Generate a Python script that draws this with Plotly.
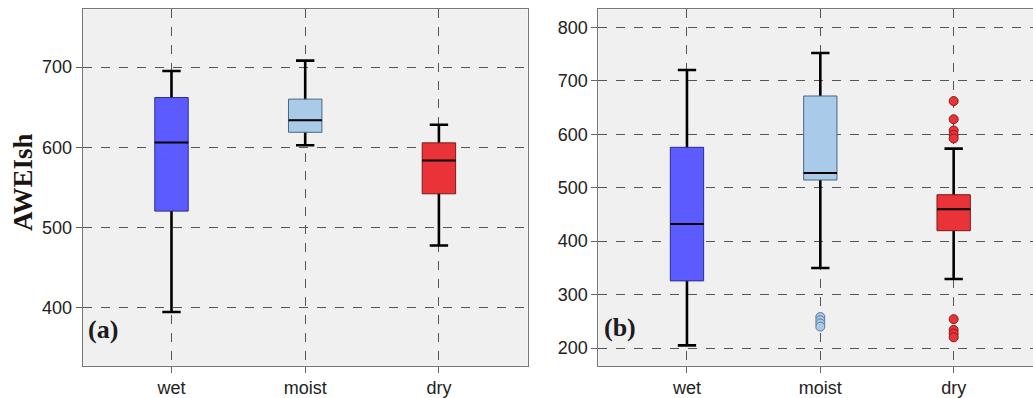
import plotly.graph_objects as go

categories = ["wet", "moist", "dry"]

# Panel (a)
a_lower = [394.6, 602.5, 477.6]
a_q1 = [520.4, 618.7, 542.0]
a_median = [606.0, 633.7, 583.4]
a_q3 = [662.0, 660.0, 605.5]
a_upper = [695.0, 708.0, 628.0]

# Panel (b)
b_lower = [205.0, 349.7, 329.0]
b_q1 = [325.6, 514.3, 419.5]
b_median = [432.0, 527.4, 459.5]
b_q3 = [575.5, 671.5, 486.8]
b_upper = [720.0, 752.0, 573.0]

b_moist_outliers = [258, 252, 246, 240]
b_dry_outliers = [662, 628, 607, 599, 592, 254, 234, 227, 220]

fills = ["#5b5bff", "#a9cbe9", "#ea3338"]
edges = ["#2d2d8a", "#4d6680", "#7a1a1a"]

W = 1033
H = 398

fig = go.Figure()


def add_panel(xa, ya, lower, q1, med, q3, upper):
    for i, c in enumerate(categories):
        # whiskers (thick black), flat box at median hidden behind coloured box
        fig.add_trace(go.Box(
            x=[c], q1=[med[i]], median=[med[i]], q3=[med[i]],
            lowerfence=[lower[i]], upperfence=[upper[i]],
            width=0.25, whiskerwidth=0.55,
            line=dict(color="black", width=2.6), fillcolor="rgba(0,0,0,0)",
            xaxis=xa, yaxis=ya, showlegend=False, hoverinfo="skip"))
        # coloured box
        fig.add_trace(go.Box(
            x=[c], q1=[q1[i]], median=[med[i]], q3=[q3[i]],
            lowerfence=[q1[i]], upperfence=[q3[i]],
            width=0.25, whiskerwidth=0,
            line=dict(color=edges[i], width=1), fillcolor=fills[i],
            xaxis=xa, yaxis=ya, showlegend=False, hoverinfo="skip"))
        # median line
        fig.add_trace(go.Box(
            x=[c], q1=[med[i]], median=[med[i]], q3=[med[i]],
            lowerfence=[med[i]], upperfence=[med[i]],
            width=0.25, whiskerwidth=0,
            line=dict(color="black", width=2), fillcolor="rgba(0,0,0,0)",
            xaxis=xa, yaxis=ya, showlegend=False, hoverinfo="skip"))


add_panel("x", "y", a_lower, a_q1, a_median, a_q3, a_upper)
add_panel("x2", "y2", b_lower, b_q1, b_median, b_q3, b_upper)

fig.add_trace(go.Scatter(
    x=["moist"] * len(b_moist_outliers), y=b_moist_outliers, mode="markers",
    marker=dict(size=9, color=fills[1], line=dict(color="#5a7a99", width=1)),
    xaxis="x2", yaxis="y2", showlegend=False, hoverinfo="skip"))
fig.add_trace(go.Scatter(
    x=["dry"] * len(b_dry_outliers), y=b_dry_outliers, mode="markers",
    marker=dict(size=9, color=fills[2], line=dict(color="#8b1a1a", width=1)),
    xaxis="x2", yaxis="y2", showlegend=False, hoverinfo="skip"))

tickfont = dict(family="Liberation Sans, Arial, sans-serif", size=18, color="#222")
common_x = dict(type="category", categoryorder="array", categoryarray=categories,
                showgrid=True, griddash="dash", gridcolor="#555", gridwidth=1,
                showline=True, mirror=True, linecolor="#777", linewidth=1,
                ticks="outside", ticklen=6, tickcolor="#666",
                tickfont=tickfont, zeroline=False, fixedrange=True)
common_y = dict(showgrid=True, griddash="dash", gridcolor="#555", gridwidth=1,
                showline=True, mirror=True, linecolor="#777", linewidth=1,
                ticks="outside", ticklen=6, tickcolor="#666",
                tickfont=tickfont, zeroline=False, ticklabelstandoff=0)

ydom = [1 - 365.7 / H, 1 - 9.3 / H]

fig.update_layout(
    width=W, height=H,
    margin=dict(l=0, r=0, t=0, b=0),
    paper_bgcolor="white", plot_bgcolor="#f0f0f0",
    boxmode="overlay",
    xaxis=dict(common_x, domain=[82.7 / W, 527.7 / W], range=[-0.664, 2.664]),
    yaxis=dict(common_y, domain=ydom, range=[327.7, 772], tickvals=[400, 500, 600, 700]),
    xaxis2=dict(common_x, domain=[598.3 / W, 1.0], range=[-0.665, 2.595], anchor="y2"),
    yaxis2=dict(common_y, domain=ydom, range=[166.9, 833.7],
                tickvals=[200, 300, 400, 500, 600, 700, 800], anchor="x2"),
    annotations=[
        dict(text="<b>AWEIsh</b>", xref="paper", yref="paper",
             x=23 / W, y=1 - 182 / H, textangle=-90, showarrow=False,
             xanchor="center", yanchor="middle",
             font=dict(family="Liberation Serif, Times New Roman, serif", size=27, color="#1c1410")),
        dict(text="<b>(a)</b>", xref="paper", yref="paper",
             x=86 / W, y=1 - 329 / H, showarrow=False, xanchor="left", yanchor="middle",
             font=dict(family="Liberation Serif, Times New Roman, serif", size=26, color="#1c1a22")),
        dict(text="<b>(b)</b>", xref="paper", yref="paper",
             x=602 / W, y=1 - 327 / H, showarrow=False, xanchor="left", yanchor="middle",
             font=dict(family="Liberation Serif, Times New Roman, serif", size=26, color="#1c1a22")),
    ],
)

fig.write_html("out.html")
